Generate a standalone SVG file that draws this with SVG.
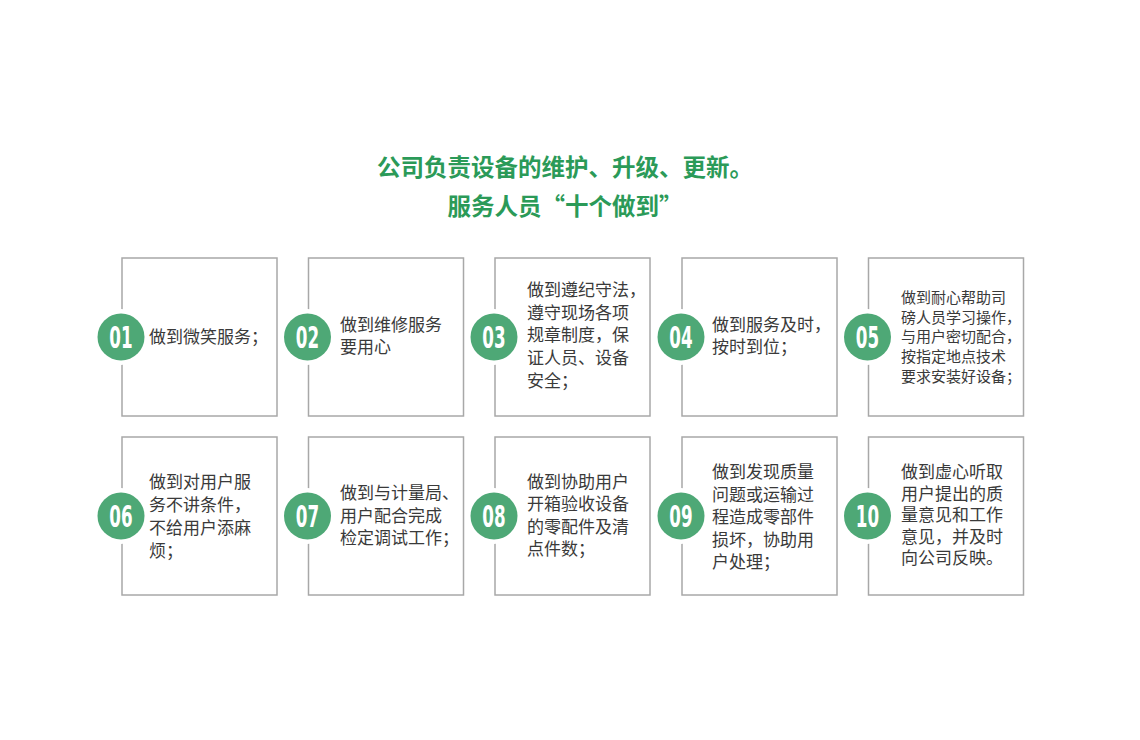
<svg xmlns="http://www.w3.org/2000/svg" width="1140" height="740" viewBox="0 0 1140 740">
<style>
.box{fill:#fff;stroke:#a8a8a8;stroke-width:1.5}
.ring{fill:#fff}
.dot{fill:#4ea876}
.num{font-family:"DejaVu Sans Condensed","DejaVu Sans",sans-serif;font-weight:bold;font-size:31px;fill:#fff;text-anchor:middle}
.t{font-family:"Noto Sans CJK SC","Noto Sans",sans-serif;font-size:17px;fill:#3a3a3a}
.s{font-size:15px}
.title{font-family:"Noto Sans CJK SC","Noto Sans",sans-serif;font-size:23.5px;font-weight:bold;fill:#2b9a58;text-anchor:middle}
</style>
<rect width="1140" height="740" fill="#fff"/>
<g id="title">
<text class="title" x="565" y="176">公司负责设备的维护、升级、更新。<tspan x="565" dy="39">服务人员“十个做到”</tspan></text>
</g>
<g id="connectors"></g>
<g id="n01">
<rect class="box" x="122" y="258" width="155" height="158"/>
<circle class="ring" cx="121" cy="337" r="28"/><circle class="dot" cx="121" cy="337" r="23.5"/>
<text class="num" transform="translate(121,348) scale(0.6,1)">01</text>
<text class="t" x="149" y="343" font-size="16">做到微笑服务；</text>
</g>
<g id="n02">
<rect class="box" x="308.5" y="258" width="155" height="158"/>
<circle class="ring" cx="307.5" cy="337" r="28"/><circle class="dot" cx="307.5" cy="337" r="23.5"/>
<text class="num" transform="translate(307.5,348) scale(0.6,1)">02</text>
<text class="t" x="340" y="331">做到维修服务<tspan x="340" dy="22">要用心</tspan></text>
</g>
<g id="n03">
<rect class="box" x="495" y="258" width="155" height="158"/>
<circle class="ring" cx="494" cy="337" r="28"/><circle class="dot" cx="494" cy="337" r="23.5"/>
<text class="num" transform="translate(494,348) scale(0.6,1)">03</text>
<text class="t" x="527" y="296">做到遵纪守法，<tspan x="527" dy="22.7">遵守现场各项</tspan><tspan x="527" dy="22.7">规章制度，保</tspan><tspan x="527" dy="22.7">证人员、设备</tspan><tspan x="527" dy="22.7">安全；</tspan></text>
</g>
<g id="n04">
<rect class="box" x="682" y="258" width="155" height="158"/>
<circle class="ring" cx="681" cy="337" r="28"/><circle class="dot" cx="681" cy="337" r="23.5"/>
<text class="num" transform="translate(681,348) scale(0.6,1)">04</text>
<text class="t" x="712" y="331">做到服务及时，<tspan x="712" dy="22">按时到位；</tspan></text>
</g>
<g id="n05">
<rect class="box" x="868.5" y="258" width="155" height="158"/>
<circle class="ring" cx="867.5" cy="337" r="28"/><circle class="dot" cx="867.5" cy="337" r="23.5"/>
<text class="num" transform="translate(867.5,348) scale(0.6,1)">05</text>
<text class="t s" x="901" y="303">做到耐心帮助司<tspan x="901" dy="19.7">磅人员学习操作，</tspan><tspan x="901" dy="19.7">与用户密切配合，</tspan><tspan x="901" dy="19.7">按指定地点技术</tspan><tspan x="901" dy="19.7">要求安装好设备；</tspan></text>
</g>
<g id="n06">
<rect class="box" x="122" y="437" width="155" height="158"/>
<circle class="ring" cx="121" cy="516" r="28"/><circle class="dot" cx="121" cy="516" r="23.5"/>
<text class="num" transform="translate(121,527) scale(0.6,1)">06</text>
<text class="t" x="149" y="488">做到对用户服<tspan x="149" dy="23">务不讲条件，</tspan><tspan x="149" dy="23">不给用户添麻</tspan><tspan x="149" dy="23">烦；</tspan></text>
</g>
<g id="n07">
<rect class="box" x="308.5" y="437" width="155" height="158"/>
<circle class="ring" cx="307.5" cy="516" r="28"/><circle class="dot" cx="307.5" cy="516" r="23.5"/>
<text class="num" transform="translate(307.5,527) scale(0.6,1)">07</text>
<text class="t" x="340" y="499">做到与计量局、<tspan x="340" dy="22.5">用户配合完成</tspan><tspan x="340" dy="22.5">检定调试工作；</tspan></text>
</g>
<g id="n08">
<rect class="box" x="495" y="437" width="155" height="158"/>
<circle class="ring" cx="494" cy="516" r="28"/><circle class="dot" cx="494" cy="516" r="23.5"/>
<text class="num" transform="translate(494,527) scale(0.6,1)">08</text>
<text class="t" x="527" y="488">做到协助用户<tspan x="527" dy="22.3">开箱验收设备</tspan><tspan x="527" dy="22.3">的零配件及清</tspan><tspan x="527" dy="22.3">点件数；</tspan></text>
</g>
<g id="n09">
<rect class="box" x="682" y="437" width="155" height="158"/>
<circle class="ring" cx="681" cy="516" r="28"/><circle class="dot" cx="681" cy="516" r="23.5"/>
<text class="num" transform="translate(681,527) scale(0.6,1)">09</text>
<text class="t" x="712" y="478">做到发现质量<tspan x="712" dy="22.5">问题或运输过</tspan><tspan x="712" dy="22.5">程造成零部件</tspan><tspan x="712" dy="22.5">损坏，协助用</tspan><tspan x="712" dy="22.5">户处理；</tspan></text>
</g>
<g id="n10">
<rect class="box" x="868.5" y="437" width="155" height="158"/>
<circle class="ring" cx="867.5" cy="516" r="28"/><circle class="dot" cx="867.5" cy="516" r="23.5"/>
<text class="num" transform="translate(867.5,527) scale(0.6,1)">10</text>
<text class="t" x="901" y="478">做到虚心听取<tspan x="901" dy="21.5">用户提出的质</tspan><tspan x="901" dy="21.5">量意见和工作</tspan><tspan x="901" dy="21.5">意见，并及时</tspan><tspan x="901" dy="21.5">向公司反映。</tspan></text>
</g>
</svg>
